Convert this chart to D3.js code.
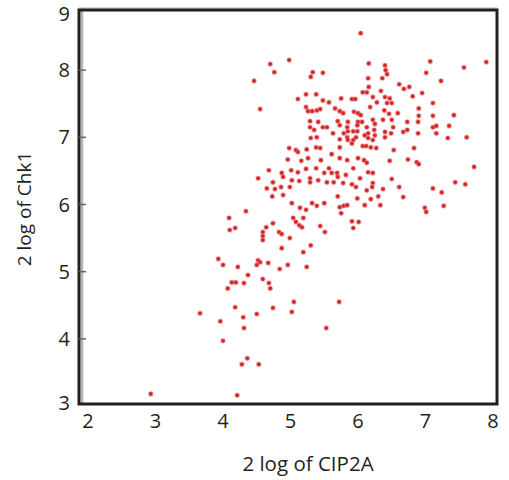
<!DOCTYPE html>
<html>
<head>
<meta charset="utf-8">
<script src="https://cdn.jsdelivr.net/npm/d3@7"></script>
<style>
  html, body { margin: 0; padding: 0; background: #fff; }
  svg { display: block; }
  text { font-family: "Open Sans", "Noto Sans", sans-serif; fill: #231f20; }
</style>
</head>
<body>
<svg id="chart" width="509" height="480"></svg>
<script>
// ---- data (2log CIP2A, 2log Chk1) ----
const cip2a = [
 6.16,6.40,6.41,6.43,6.36,7.07,5.33,5.48,5.30,7.01,6.15,6.61,6.76,6.68,6.07,6.13,6.16,6.22,6.28,6.34,
 6.95,6.81,5.23,5.38,5.11,5.48,5.75,5.91,5.96,6.40,6.47,6.50,6.43,5.57,7.11,6.90,6.18,5.23,5.26,5.32,
 5.39,5.44,5.66,5.73,5.78,5.94,6.00,6.04,6.39,6.46,6.59,6.90,7.11,5.29,5.41,5.70,5.73,5.85,5.84,6.00,
 6.06,5.99,6.22,6.25,6.24,6.25,6.37,6.50,6.73,6.89,7.11,5.29,5.48,5.54,5.35,5.63,5.79,5.85,5.93,5.99,
 6.13,6.15,6.10,6.40,6.49,6.40,6.67,6.73,6.89,5.30,5.39,5.73,5.84,5.85,5.93,5.97,6.15,6.22,6.07,6.12,
 6.19,6.27,4.98,5.08,5.11,5.24,5.38,5.44,5.73,5.61,6.53,6.83,4.96,5.16,5.26,5.45,5.73,5.84,6.00,6.09,
 6.13,6.47,6.74,6.87,6.90,5.01,5.11,5.23,5.38,5.50,5.57,5.61,5.69,5.70,5.82,5.93,6.15,6.22,5.02,4.99,
 5.13,5.29,5.29,5.41,5.54,5.64,5.78,6.03,5.91,5.97,6.22,6.21,6.50,6.13,6.37,6.61,7.11,5.70,5.99,6.30,
 6.67,5.02,5.32,5.39,5.50,5.73,5.79,5.84,6.10,6.33,5.14,6.99,6.52,5.91,6.19,5.75,
 4.98,4.70,4.76,4.46,4.55,6.04,7.23,7.57,7.90,7.16,7.16,7.35,7.33,7.61,7.42,7.72,7.24,7.44,7.59,7.27,
 7.01,5.91,6.01,5.93,4.52,4.68,4.87,4.89,4.74,4.65,4.77,4.86,4.89,4.73,4.34,5.23,5.04,5.08,5.13,5.17,
 5.19,4.74,4.64,4.09,4.10,4.18,4.59,4.59,4.59,4.83,4.87,5.44,5.51,4.99,5.30,4.87,5.19,4.52,4.55,4.50,
 4.67,4.22,4.96,4.84,5.24,4.37,4.59,4.68,4.13,4.19,4.31,4.70,5.05,5.72,4.18,4.74,5.02,4.50,4.30,3.93,
 4.00,4.07,3.96,4.31,5.53,4.00,4.36,4.28,4.53,4.21,3.66,2.93
];
const chk1 = [
 8.10,8.07,8.00,7.94,7.88,8.13,7.97,7.96,7.90,7.96,7.88,7.79,7.75,7.72,7.67,7.67,7.75,7.60,7.52,7.69,
 7.66,7.61,7.64,7.64,7.57,7.55,7.58,7.57,7.57,7.60,7.58,7.51,7.51,7.52,7.51,7.43,7.45,7.45,7.39,7.39,
 7.40,7.42,7.43,7.39,7.36,7.38,7.36,7.33,7.40,7.35,7.36,7.32,7.32,7.24,7.23,7.24,7.18,7.23,7.15,7.23,
 7.23,7.18,7.26,7.20,7.11,7.03,7.26,7.26,7.23,7.23,7.15,7.15,7.15,7.15,7.11,7.06,7.06,7.09,7.09,7.09,
 7.15,7.06,7.03,7.08,7.06,7.00,7.08,7.11,7.06,6.99,7.00,6.97,7.00,6.96,6.96,7.00,6.99,6.96,6.87,6.87,
 6.85,6.84,6.84,6.81,6.78,6.82,6.85,6.84,6.85,6.75,6.81,6.84,6.67,6.65,6.69,6.66,6.69,6.66,6.69,6.66,
 6.62,6.65,6.67,6.63,6.60,6.51,6.48,6.53,6.54,6.47,6.54,6.47,6.47,6.41,6.44,6.54,6.48,6.47,6.36,6.26,
 6.35,6.39,6.33,6.36,6.33,6.33,6.32,6.39,6.30,6.26,6.32,6.26,6.38,6.21,6.23,6.26,6.24,6.12,6.09,6.12,
 6.11,6.02,6.02,5.98,6.02,5.96,5.98,5.99,5.99,5.99,5.95,5.95,7.15,6.91,6.08,5.87,
 8.15,8.09,7.97,7.84,7.42,8.55,7.84,8.04,8.12,7.17,7.06,7.17,6.99,7.00,7.33,6.56,6.18,6.33,6.30,5.98,
 5.89,5.75,5.74,5.65,6.39,6.51,6.47,6.41,6.33,6.24,6.23,6.26,6.14,6.12,5.90,5.92,5.80,5.74,5.69,5.66,
 5.80,5.72,5.66,5.80,5.62,5.65,5.59,5.53,5.47,5.59,5.56,5.68,5.59,5.50,5.39,5.35,5.29,5.17,5.14,5.10,
 5.13,5.07,5.10,5.04,5.07,4.95,4.89,4.83,4.84,4.84,4.83,4.75,4.55,4.55,4.47,4.46,4.40,4.37,4.32,5.19,
 5.10,4.75,4.26,4.16,4.16,3.97,3.71,3.62,3.62,3.16,4.38,3.18
];
const xTicks = [2, 3, 4, 5, 6, 7, 8];
const yTicks = [3, 4, 5, 6, 7, 8, 9];
const xTitle = "2 log of CIP2A";
const yTitle = "2 log of Chk1";

// ---- layout ----
const svg = d3.select("#chart");
const x = d3.scaleLinear().domain([2, 8]).range([88, 493]);
const y = d3.scaleLinear().domain([3, 9]).range([406, 3]);
const frame = { left: 79, right: 497, top: 10, bottom: 404 };

// points
const pts = cip2a.map((v, i) => ({ x: v, y: chk1[i] }));
svg.append("g")
  .selectAll("circle")
  .data(pts)
  .join("circle")
  .attr("cx", d => x(d.x))
  .attr("cy", d => y(d.y))
  .attr("r", 2.1)
  .attr("fill", "#d42326")
  .attr("stroke", "rgba(228,110,110,0.45)")
  .attr("stroke-width", 1.4);

// frame
svg.append("line")
  .attr("x1", frame.left + 3).attr("x2", frame.left + 3)
  .attr("y1", frame.top + 1).attr("y2", frame.bottom - 1)
  .attr("stroke", "#b5b5b5").attr("stroke-width", 2.5);
svg.append("line")
  .attr("x1", frame.left).attr("x2", frame.right)
  .attr("y1", frame.top - 2).attr("y2", frame.top - 2)
  .attr("stroke", "#c8c8c8").attr("stroke-width", 1.5);
svg.append("rect")
  .attr("x", frame.left).attr("y", frame.top)
  .attr("width", frame.right - frame.left)
  .attr("height", frame.bottom - frame.top)
  .attr("fill", "none")
  .attr("stroke", "#231f20")
  .attr("stroke-width", 3);

// y ticks (inside) and labels
const yInner = yTicks.filter(t => y(t) > frame.top + 4 && y(t) < frame.bottom - 4);
svg.append("g").selectAll("line")
  .data(yInner)
  .join("line")
  .attr("x1", frame.left).attr("x2", frame.left + 7)
  .attr("y1", d => y(d)).attr("y2", d => y(d))
  .attr("stroke", "#666").attr("stroke-width", 1.5);

svg.append("g").selectAll("text")
  .data(yTicks)
  .join("text")
  .attr("x", 70)
  .attr("y", d => Math.max(14, Math.min(403, y(d))))
  .attr("dy", "0.35em")
  .attr("text-anchor", "end")
  .attr("font-size", 20)
  .text(d => d);

svg.append("g").selectAll("text")
  .data(xTicks)
  .join("text")
  .attr("x", d => x(d))
  .attr("y", 428)
  .attr("text-anchor", "middle")
  .attr("font-size", 20)
  .text(d => d);

// axis titles
svg.append("text")
  .attr("x", 308).attr("y", 471)
  .attr("text-anchor", "middle")
  .attr("font-size", 20.5)
  .text(xTitle);

svg.append("text")
  .attr("transform", "translate(31,209) rotate(-90)")
  .attr("text-anchor", "middle")
  .attr("font-size", 19)
  .text(yTitle);
</script>
</body>
</html>
